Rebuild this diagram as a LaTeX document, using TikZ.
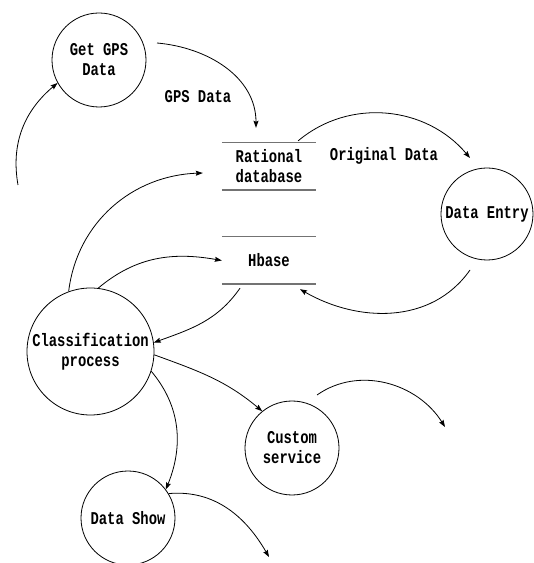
\documentclass[tikz,border=0pt]{standalone}
\usepackage{fontspec}
\setmainfont{Liberation Mono}[FakeStretch=0.77]
\usetikzlibrary{arrows.meta,calc}

\begin{document}
\begin{tikzpicture}[x=1pt,y=1pt,
  every node/.style={font=\bfseries\fontsize{18}{20}\selectfont, align=center},
  proc/.style={circle, draw, line width=0.8pt, inner sep=0pt},
  store/.style={rectangle, inner sep=0pt, minimum width=94, minimum height=47},
  storeline/.style={draw=black!55, line width=1.4pt},
  flow/.style={line width=0.8pt, -{Stealth[length=7pt,width=5pt,inset=1pt]}}
]
\useasboundingbox (0,0) rectangle (534,563);

% processes
\node[proc, minimum size=94]  (gps) at (99,503)    {Get GPS\\Data};
\node[proc, minimum size=92]  (de)  at (487,349)   {Data Entry};
\node[proc, minimum size=127] (cp)  at (90.5,211.5) {Classification\\process};
\node[proc, minimum size=94]  (cs)  at (292,115)   {Custom\\service};
\node[proc, minimum size=94]  (ds)  at (128,45)    {Data Show};

% data stores
\node[store] (rdb) at (269,396.5) {Rational\\database};
\node[store] (hb)  at (269,302.5) {Hbase};
\draw[storeline] (rdb.north west) -- (rdb.north east);
\draw[storeline] (rdb.south west) -- (rdb.south east);
\draw[storeline] (hb.north west) -- (hb.north east);
\draw[storeline] (hb.south west) -- (hb.south east);

% flow labels
\node (lgps)  at (198,466) {GPS Data};
\node (lorig) at (384,407) {Original Data};

% free ends
\coordinate (in1)   at (18,378);
\coordinate (out10) at (445,136);
\coordinate (out11) at (269,6);

% flows
\draw[flow] (in1) to[out=100,in=220] (gps.209);
\draw[flow] ($(gps.center)+(58,17)$) to[out=-5,in=90] ($(rdb.north)+(-13,15)$);
\draw[flow] ($(rdb.north east)+(-18,2)$) to[out=40,in=130] ($(de.center)+(-17,56)$);
\draw[flow] ($(de.center)+(-17,-56)$) to[out=235,in=330] ($(hb.south)+(31,-5)$);
\draw[flow] ($(hb.south)+(-29,-4)$) to[out=235,in=20] (cp.8);
\draw[flow] (cp.110) to[out=83,in=182] ($(rdb.west)+(-19,-6.5)$);
\draw[flow] (cp.83) to[out=40,in=170] (hb.west);
\draw[flow] (cp.-3.5) to[out=-20,in=140] (cs.129);
\draw[flow] (cp.-18) to[out=-50,in=68] (ds.37);
\draw[flow] ($(cs.center)+(25,53)$) to[out=35,in=122] (out10);
\draw[flow] (ds.31) to[out=5,in=120] (out11);
\end{tikzpicture}
\end{document}
